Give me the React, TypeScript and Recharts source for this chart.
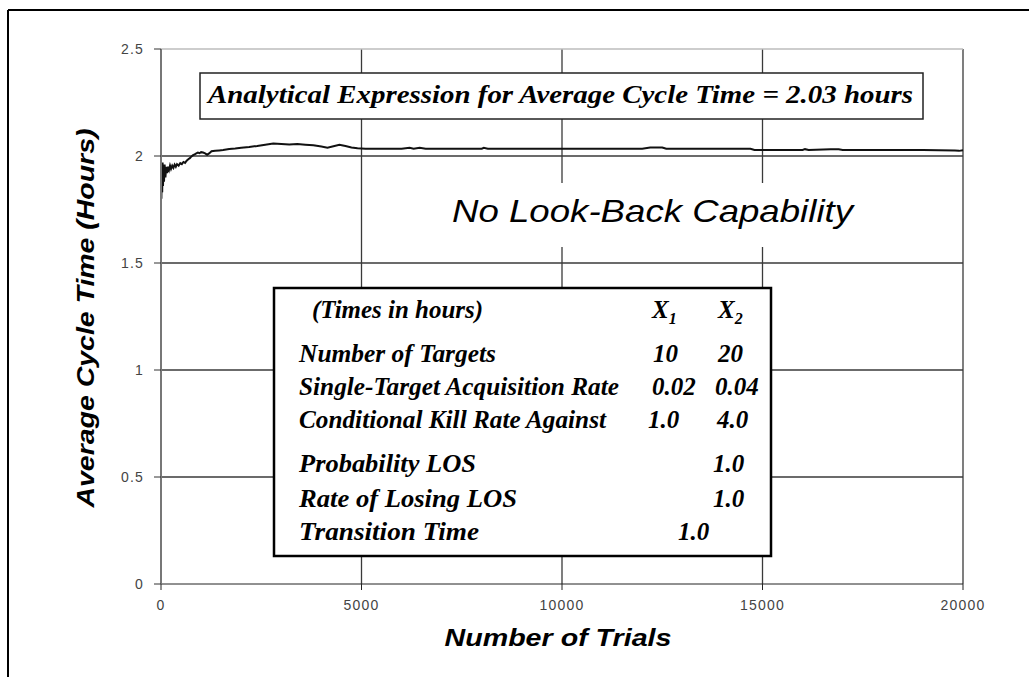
import React from 'react';
import { LineChart, Line, XAxis, YAxis, CartesianGrid, ReferenceLine } from 'recharts';

const xTicks = [0, 5000, 10000, 15000, 20000];
const yTicks = [0, 0.5, 1, 1.5, 2, 2.5];

const trials = [
  0, 10, 20, 30, 40, 50, 60, 75, 90, 110, 130, 150, 175, 200, 225, 250, 280, 310, 340, 370,
  400, 440, 480, 520, 560, 600, 640, 680, 720, 760, 800, 840, 880, 920, 960, 1000, 1050, 1100,
  1150, 1200, 1260, 1350, 1450, 1550, 1700, 1850, 2000, 2200, 2400, 2600, 2800, 3000, 3200,
  3400, 3600, 3800, 4000, 4150, 4300, 4450, 4600, 4750, 4900, 5100, 5500, 6000, 6200, 6300,
  6450, 6600, 7000, 8000, 8050, 8150, 9000, 10000, 11000, 12000, 12200, 12500, 12600, 13500,
  14700, 14800, 15500, 16000, 16060, 16150, 16700, 16900, 17000, 18000, 19000, 19800, 19900,
  20000,
];

const avgCycleTime = [
  1.93, 1.8, 1.96, 1.83, 1.97, 1.86, 1.95, 1.88, 1.96, 1.9, 1.95, 1.92, 1.95, 1.935, 1.955,
  1.94, 1.955, 1.945, 1.96, 1.95, 1.962, 1.955, 1.967, 1.962, 1.972, 1.968, 1.978, 1.985, 1.99,
  1.998, 2.004, 2.008, 2.012, 2.016, 2.013, 2.018, 2.016, 2.012, 2.006, 2.012, 2.022, 2.024,
  2.026, 2.028, 2.033, 2.035, 2.038, 2.042, 2.047, 2.053, 2.058, 2.056, 2.054, 2.056, 2.053,
  2.05, 2.044, 2.039, 2.046, 2.053, 2.047, 2.04, 2.036, 2.034, 2.034, 2.034, 2.038, 2.034,
  2.038, 2.034, 2.034, 2.034, 2.038, 2.034, 2.034, 2.034, 2.034, 2.034, 2.04, 2.04, 2.034,
  2.034, 2.034, 2.028, 2.028, 2.028, 2.032, 2.028, 2.032, 2.031, 2.028, 2.028, 2.028, 2.026,
  2.024, 2.027,
];

const tableRows = [
  'Number of Targets',
  'Single-Target Acquisition Rate',
  'Conditional Kill Rate Against',
  'Probability LOS',
  'Rate of Losing LOS',
  'Transition Time',
];
const x1Values = ['10', '0.02', '1.0', '1.0', '1.0', '1.0'];
const x2Values = ['20', '0.04', '4.0', '', '', ''];

const data = trials.map((t, i) => ({ trials: t, value: avgCycleTime[i] }));

const serif = '"Liberation Serif", "Times New Roman", serif';
const sans = '"Liberation Sans", Arial, sans-serif';

// row layout inside the parameter box
const rowY = [362, 395, 428, 472, 507, 540];
const rowW = [197, 320, 307, 177, 218, 180];
const x1X = [653, 652, 648, 713, 713, 678];
const x2X = [718, 715, 717, 0, 0, 0];

// wide, light tick text like the old bitmap font
const XTick = (props: any) => {
  const { x, y, payload } = props;
  return (
    <text x={x} y={y + 16} textAnchor="middle" fill="#444" fontSize={14} letterSpacing={1.2} fontFamily={sans}>
      {payload.value}
    </text>
  );
};

const YTick = (props: any) => {
  const { x, y, payload } = props;
  return (
    <text x={x} y={y + 5} textAnchor="end" fill="#444" fontSize={14} letterSpacing={1.2} fontFamily={sans}>
      {payload.value}
    </text>
  );
};

export default function App(): React.JSX.Element {
  return (
    <div style={{ position: 'relative', width: 1029, height: 677, overflow: 'hidden', background: '#fff' }}>
      <style>{'body{margin:0}'}</style>
      <LineChart
        width={1029}
        height={677}
        data={data}
        margin={{ top: 49, right: 66, left: 100, bottom: 63 }}
      >
        <CartesianGrid
          stroke="#3a3a3a"
          strokeWidth={1.3}
          horizontalValues={[0.5, 1, 1.5, 2]}
          verticalValues={[5000, 10000, 15000, 20000]}
        />
        <ReferenceLine y={2.5} stroke="#bdbdbd" strokeWidth={1.5} />
        <XAxis
          dataKey="trials"
          type="number"
          domain={[0, 20000]}
          ticks={xTicks}
          height={30}
          tickSize={6}
          tickMargin={4}
          stroke="#222"
          tick={<XTick />}
        />
        <YAxis
          type="number"
          domain={[0, 2.5]}
          ticks={yTicks}
          width={61}
          tickSize={7}
          tickMargin={10}
          stroke="#777"
          axisLine={{ stroke: '#777', strokeWidth: 2 }}
          tickLine={{ stroke: '#333' }}
          tick={<YTick />}
        />
        <Line
          type="linear"
          dataKey="value"
          stroke="#111"
          strokeWidth={2}
          dot={false}
          isAnimationActive={false}
        />
      </LineChart>
      <svg
        width={1029}
        height={677}
        style={{ position: 'absolute', left: 0, top: 0, pointerEvents: 'none' }}
      >
        <line x1={8} y1={10} x2={1029} y2={10} stroke="#000" strokeWidth={2} />
        <line x1={8} y1={10} x2={8} y2={677} stroke="#000" strokeWidth={2} />

        <rect x={200} y={73} width={723} height={46} fill="#fff" stroke="#222" strokeWidth={1.5} />
        <text
          x={208}
          y={103}
          fontFamily={serif}
          fontSize={25}
          fontWeight="bold"
          fontStyle="italic"
          textLength={705}
          lengthAdjust="spacingAndGlyphs"
        >
          Analytical Expression for Average Cycle Time = 2.03 hours
        </text>

        <rect x={445} y={183} width={415} height={64} fill="#fff" />
        <text
          x={452}
          y={222}
          fontFamily={sans}
          fontSize={32}
          fontStyle="italic"
          textLength={401}
          lengthAdjust="spacingAndGlyphs"
        >
          No Look-Back Capability
        </text>

        <rect x={274} y={288} width={497} height={268} fill="#fff" stroke="#000" strokeWidth={2.5} />
        <g fontFamily={serif} fontSize={25} fontWeight="bold" fontStyle="italic">
          <text x={312} y={318} textLength={171} lengthAdjust="spacingAndGlyphs">
            (Times in hours)
          </text>
          <text x={652} y={318}>
            X<tspan fontSize={16} dy={6}>1</tspan>
          </text>
          <text x={718} y={318}>
            X<tspan fontSize={16} dy={6}>2</tspan>
          </text>
          {tableRows.map((label, i) => (
            <g key={label}>
              <text x={299} y={rowY[i]} textLength={rowW[i]} lengthAdjust="spacingAndGlyphs">
                {label}
              </text>
              <text x={x1X[i]} y={rowY[i]}>{x1Values[i]}</text>
              {x2Values[i] && <text x={x2X[i]} y={rowY[i]}>{x2Values[i]}</text>}
            </g>
          ))}
        </g>

        <text
          transform="translate(94,318) rotate(-90)"
          textAnchor="middle"
          fontFamily={sans}
          fontSize={23}
          fontWeight="bold"
          fontStyle="italic"
          textLength={379}
          lengthAdjust="spacingAndGlyphs"
        >
          Average Cycle Time (Hours)
        </text>
        <text
          x={558}
          y={646}
          textAnchor="middle"
          fontFamily={sans}
          fontSize={23}
          fontWeight="bold"
          fontStyle="italic"
          textLength={227}
          lengthAdjust="spacingAndGlyphs"
        >
          Number of Trials
        </text>
      </svg>
    </div>
  );
}
